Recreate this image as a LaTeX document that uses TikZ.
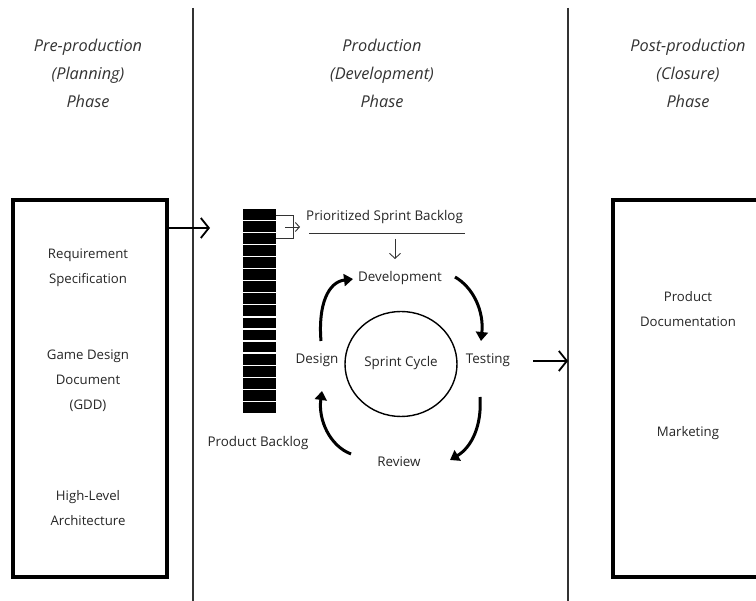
\documentclass[tikz,border=0pt]{standalone}
\usepackage{fontspec}
\setmainfont{Open Sans}
\usetikzlibrary{arrows.meta,shapes.geometric}
\begin{document}
\begin{tikzpicture}[x=1pt,y=-1pt,
  phase/.style={align=center,font=\fontsize{16.3}{28}\selectfont\itshape,text=black!80,inner sep=0pt},
  item/.style={align=center,font=\fontsize{13.2}{25}\selectfont,text=black!85,inner sep=0pt},
  lbl/.style={font=\fontsize{13.4}{15}\selectfont,text=black!85,inner sep=0pt},
  divider/.style={line width=1.1pt,black!80},
  phasebox/.style={draw=black,line width=3.5pt},
  flow/.style={line width=1.8pt,-{Straight Barb[length=8pt,width=20pt,line width=1.8pt]}},
  thin/.style={line width=0.9pt,black!80},
  cyc/.style={line width=3pt,-{Triangle[length=9pt,width=12pt]}},
  bar/.style={fill=black,draw=none}]
\useasboundingbox (0,0) rectangle (756,601);
\clip (0,0) rectangle (756,601);
\fill[white] (0,0) rectangle (756,601);
% dividers
\coordinate (d1t) at (193,8); \coordinate (d1b) at (193,601);
\coordinate (d2t) at (568,8); \coordinate (d2b) at (568,601);
\draw[divider] (d1t) -- (d1b);
\draw[divider] (d2t) -- (d2b);
% phase headings
\node[phase] (ph1) at (88,73) {Pre-production\\(Planning)\\Phase};
\node[phase] (ph2) at (382,73) {Production\\(Development)\\Phase};
\node[phase] (ph3) at (688,73) {Post-production\\(Closure)\\Phase};
% boxes
\node[phasebox,minimum width=154pt,minimum height=377pt,inner sep=0pt] (lbox) at (90,388.5) {};
\node[phasebox,minimum width=170pt,minimum height=377pt,inner sep=0pt] (rbox) at (698,388.5) {};
\node[item] (req) at (88,267.5) {Requirement\\Specification};
\node[item] (gdd) at (88,380.5) {Game Design\\Document\\(GDD)};
\node[item] (hla) at (88,508.5) {High-Level\\Architecture};
\node[item] (pdoc) at (688,309) {Product\\Documentation};
\node[item] (mkt) at (688,433) {Marketing};
% phase arrows
\coordinate (a1e) at (210,228);
\draw[flow] (lbox.east |- a1e) -- (a1e);
\coordinate (a2s) at (533,361);
\coordinate (a2e) at (568,361);
\draw[flow] (a2s) -- (a2e);
% product backlog stack
\foreach \i in {0,...,16}{
  \fill[bar] (243,{209+\i*12.06}) rectangle (276,{209+\i*12.06+10.8});
}
\node[lbl] (pb) at (258,443) {Product Backlog};
% bracket
\coordinate (bt) at (276,215); \coordinate (bb) at (276,238);
\coordinate (bmid) at (285,227);
\coordinate (bend) at (300,227);
\draw[thin] (bt) -- (293,215) -- (293,238) -- (bb);
\node[lbl,anchor=west] (psb) at (306,217) {Prioritized Sprint Backlog};
\draw[thin,-{Straight Barb[length=4pt,width=9pt]}] (bmid) -- (bend);
\coordinate (ul1) at (309,233); \coordinate (ul2) at (465,233);
\draw[thin] (ul1) -- (ul2);
% sprint cycle
\node[draw,line width=1.4pt,ellipse,minimum width=112pt,minimum height=105pt,inner sep=0pt] (cyc) at (401,364) {};
\node[lbl] (sc) at (401,363) {Sprint Cycle};
\node[lbl] (dev) at (400,278) {Development};
\node[lbl] (des) at (317,360) {Design};
\node[lbl] (tst) at (488,360) {Testing};
\node[lbl] (rev) at (399,462) {Review};
\coordinate (dn1) at (395,239); \coordinate (dn2) at (395,259);
\draw[thin,-{Straight Barb[length=5pt,width=11pt]}] (dn1) -- (dn2);
% cycle arrows
\draw[cyc] (321,341) .. controls (318,305) and (328,282) .. (353,279);
\draw[cyc] (455,277) .. controls (474,288) and (484,312) .. (481,341);
\draw[cyc] (480,397) .. controls (482,425) and (472,447) .. (450,460);
\draw[cyc] (351,454) .. controls (330,446) and (318,420) .. (322,391);
\end{tikzpicture}
\end{document}
